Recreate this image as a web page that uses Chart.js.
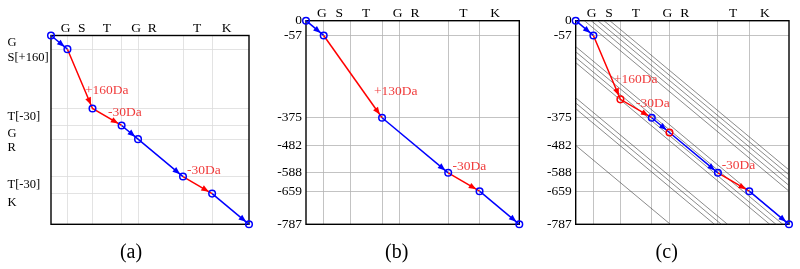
<!DOCTYPE html>
<html><head><meta charset="utf-8">
<script src="https://cdn.jsdelivr.net/npm/chart.js@4"></script>
<style>
html,body{margin:0;padding:0;background:#fff;width:800px;height:269px;overflow:hidden}
canvas{position:absolute;top:0}
</style></head><body>
<canvas id="ca" width="270" height="269" style="left:0px"></canvas>
<canvas id="cb" width="265" height="269" style="left:270px"></canvas>
<canvas id="cc" width="265" height="269" style="left:535px"></canvas>
<script>
// ---- shared peptide axis ----
const peptide = ['G','S','T','G','R','T','K'];
const prefixMass = [0,57,144,245,302,458,559,687];
const xLabelPos = [51,107,194,295,351,507,609];
const xGrid = [57,144,245,302,458,559];

// ---- panel (a) ----
const specA = [0,-57,-304,-375,-432,-588,-659,-787];
const yGridA = [-57,-304,-375,-432,-588,-659];
const yLabelsA = ['G','S[+160]','T[-30]','G','R','T[-30]','K'];
const yLabelPosA = [-32,-91,-338,-411,-469,-623,-695];
const segA = ['b','r','r','b','b','r','b'];
const ptA = ['b','b','b','b','b','b','b','b'];
const annTextA = ['+160Da','-30Da','-30Da'];
const annXA = [118,198,472];
const annYA = [-227,-319,-564];

// ---- panel (b) ----
const xB = [0,57,245,458,559,687];
const yB = [0,-57,-375,-588,-659,-787];
const segB = ['b','r','b','r','b'];
const ptB = ['b','b','b','b','b','b'];
const yTicksB = [0,-57,-375,-482,-588,-659,-787];
const yGridB = [-57,-375,-482,-588,-659];
const annTextB = ['+130Da','-30Da'];
const annXB = [219,472];
const annYB = [-274,-562];

// ---- panel (c) ----
const xC = [0,57,144,245,302,458,559,687];
const yC = [0,-57,-304,-375,-432,-588,-659,-787];
const segC = ['b','r','r','b','b','r','b'];
const ptC = ['b','b','r','b','r','b','b','b'];
const annTextC = ['+160Da','-30Da','-30Da'];
const annXC = [123,194,470];
const annYC = [-229,-319,-560];
const diagOffsets = [-110,-91,-71,-50,-28,100,120,142,162,298,318,340,482];

const COL = {b:'#0000ff', r:'#ff0000'};
const TXTRED = '#f03c3c';
const SERIF = '"Liberation Serif", "DejaVu Serif", serif';

const deco = {
  id:'deco',
  beforeDatasetsDraw(chart, args, o){
    const a = chart.chartArea, ctx = chart.ctx;
    ctx.save();
    ctx.strokeStyle = '#000'; ctx.lineWidth = 1.4;
    ctx.strokeRect(a.left, a.top, a.right-a.left, a.bottom-a.top);
    ctx.restore();
  },
  afterDatasetsDraw(chart, args, o){
    const ctx = chart.ctx;
    const meta = chart.getDatasetMeta(0);
    const pts = meta.data;
    ctx.save();
    for (let i=0;i<pts.length-1;i++){
      const p0=pts[i], p1=pts[i+1];
      const dx=p1.x-p0.x, dy=p1.y-p0.y, L=Math.hypot(dx,dy);
      const ux=dx/L, uy=dy/L;
      const tx=p1.x-ux*3.8, ty=p1.y-uy*3.8;
      const bx=tx-ux*7.5, by=ty-uy*7.5;
      ctx.fillStyle = COL[o.seg[i]];
      ctx.beginPath();
      ctx.moveTo(tx,ty);
      ctx.lineTo(bx-uy*3, by+ux*3);
      ctx.lineTo(bx+uy*3, by-ux*3);
      ctx.closePath(); ctx.fill();
    }
    ctx.restore();
  },
  afterDraw(chart, args, o){
    const ctx = chart.ctx, a = chart.chartArea;
    const xs = chart.scales.x, ys = chart.scales.y;
    ctx.save();
    ctx.fillStyle = '#000';
    ctx.font = '13.5px ' + SERIF;
    ctx.textAlign = 'center'; ctx.textBaseline = 'middle';
    o.xLabels.forEach((t,i)=> ctx.fillText(t, xs.getPixelForValue(o.xLabelPos[i]), a.top-7.5));
    if (o.yLabels){
      ctx.font = '12.5px ' + SERIF;
      ctx.textAlign = 'left';
      o.yLabels.forEach((t,i)=> ctx.fillText(t, 7.5, ys.getPixelForValue(o.yLabelPos[i])));
    }
    if (o.yTicks){
      ctx.font = '13.5px ' + SERIF;
      ctx.textAlign = 'right';
      o.yTicks.forEach(v=> ctx.fillText(String(v), a.left-4, ys.getPixelForValue(v)));
    }
    ctx.font = '13.5px ' + SERIF;
    ctx.fillStyle = TXTRED;
    ctx.textAlign = 'left';
    o.annText.forEach((t,i)=> ctx.fillText(t, xs.getPixelForValue(o.annX[i]), ys.getPixelForValue(o.annY[i])));
    ctx.fillStyle = '#000';
    ctx.font = '20px ' + SERIF;
    ctx.textAlign = 'center';
    ctx.fillText(o.caption, o.capX, 253);
    ctx.restore();
  }
};

function makePanel(id, o){
  const pathData = o.xs.map((x,i)=>({x:x, y:o.ys[i]}));
  const datasets = [{
    data: pathData, showLine: true, borderWidth: 1.5,
    borderColor: COL.b,
    segment: { borderColor: c => COL[o.seg[c.p0DataIndex]] },
    pointRadius: 3.3, pointBorderWidth: 1.5,
    pointBorderColor: o.pt.map(k=>COL[k]),
    pointBackgroundColor: 'rgba(255,255,255,0)',
    clip: false,
    order: 0
  }];
  (o.diag||[]).forEach(d=>{
    datasets.push({
      data:[{x:0,y:-d},{x:687,y:-(687+d)}], showLine:true,
      borderColor:'#3a3a3a', borderWidth:0.6, pointRadius:0, order:1
    });
  });
  return new Chart(document.getElementById(id), {
    type:'scatter',
    data:{datasets},
    options:{
      responsive:false, animation:false, devicePixelRatio:1,
      layout:{padding:o.pad},
      plugins:{legend:{display:false}, tooltip:{enabled:false},
        deco:{seg:o.seg, xLabels:peptide, xLabelPos:xLabelPos, yLabels:o.yLabels, yLabelPos:o.yLabelPos,
              yTicks:o.yTicks, annText:o.annText, annX:o.annX, annY:o.annY, caption:o.caption, capX:o.capX}},
      scales:{
        x:{type:'linear', min:0, max:687, position:'top',
           afterBuildTicks: s=>{ s.ticks = xGrid.map(v=>({value:v})); },
           afterFit: s=>{ s.height = 0; },
           ticks:{display:false}, grid:{color:o.gridColor, lineWidth:0.8, drawTicks:false}, border:{display:false}},
        y:{type:'linear', min:-787, max:0, position:'left',
           afterBuildTicks: s=>{ s.ticks = o.yGrid.map(v=>({value:v})); },
           afterFit: s=>{ s.width = 0; },
           ticks:{display:false}, grid:{color:o.gridColor, lineWidth:0.8, drawTicks:false}, border:{display:false}}
      }
    },
    plugins:[deco]
  });
}

makePanel('ca', {xs:prefixMass, ys:specA, seg:segA, pt:ptA, yGrid:yGridA, yLabels:yLabelsA, yLabelPos:yLabelPosA,
  annText:annTextA, annX:annXA, annY:annYA, caption:'(a)', capX:131, gridColor:'#dcdcdc',
  pad:{left:51, top:35.5, right:21, bottom:44.7}});
makePanel('cb', {xs:xB, ys:yB, seg:segB, pt:ptB, yGrid:yGridB, yTicks:yTicksB,
  annText:annTextB, annX:annXB, annY:annYB, caption:'(b)', capX:126.7, gridColor:'#b4b4b4',
  pad:{left:36, top:20.7, right:15.7, bottom:44.7}});
makePanel('cc', {xs:xC, ys:yC, seg:segC, pt:ptC, yGrid:yGridB, yTicks:yTicksB, diag:diagOffsets,
  annText:annTextC, annX:annXC, annY:annYC, caption:'(c)', capX:131.7, gridColor:'#b4b4b4',
  pad:{left:40.7, top:20.7, right:11, bottom:44.7}});
</script>
</body></html>
